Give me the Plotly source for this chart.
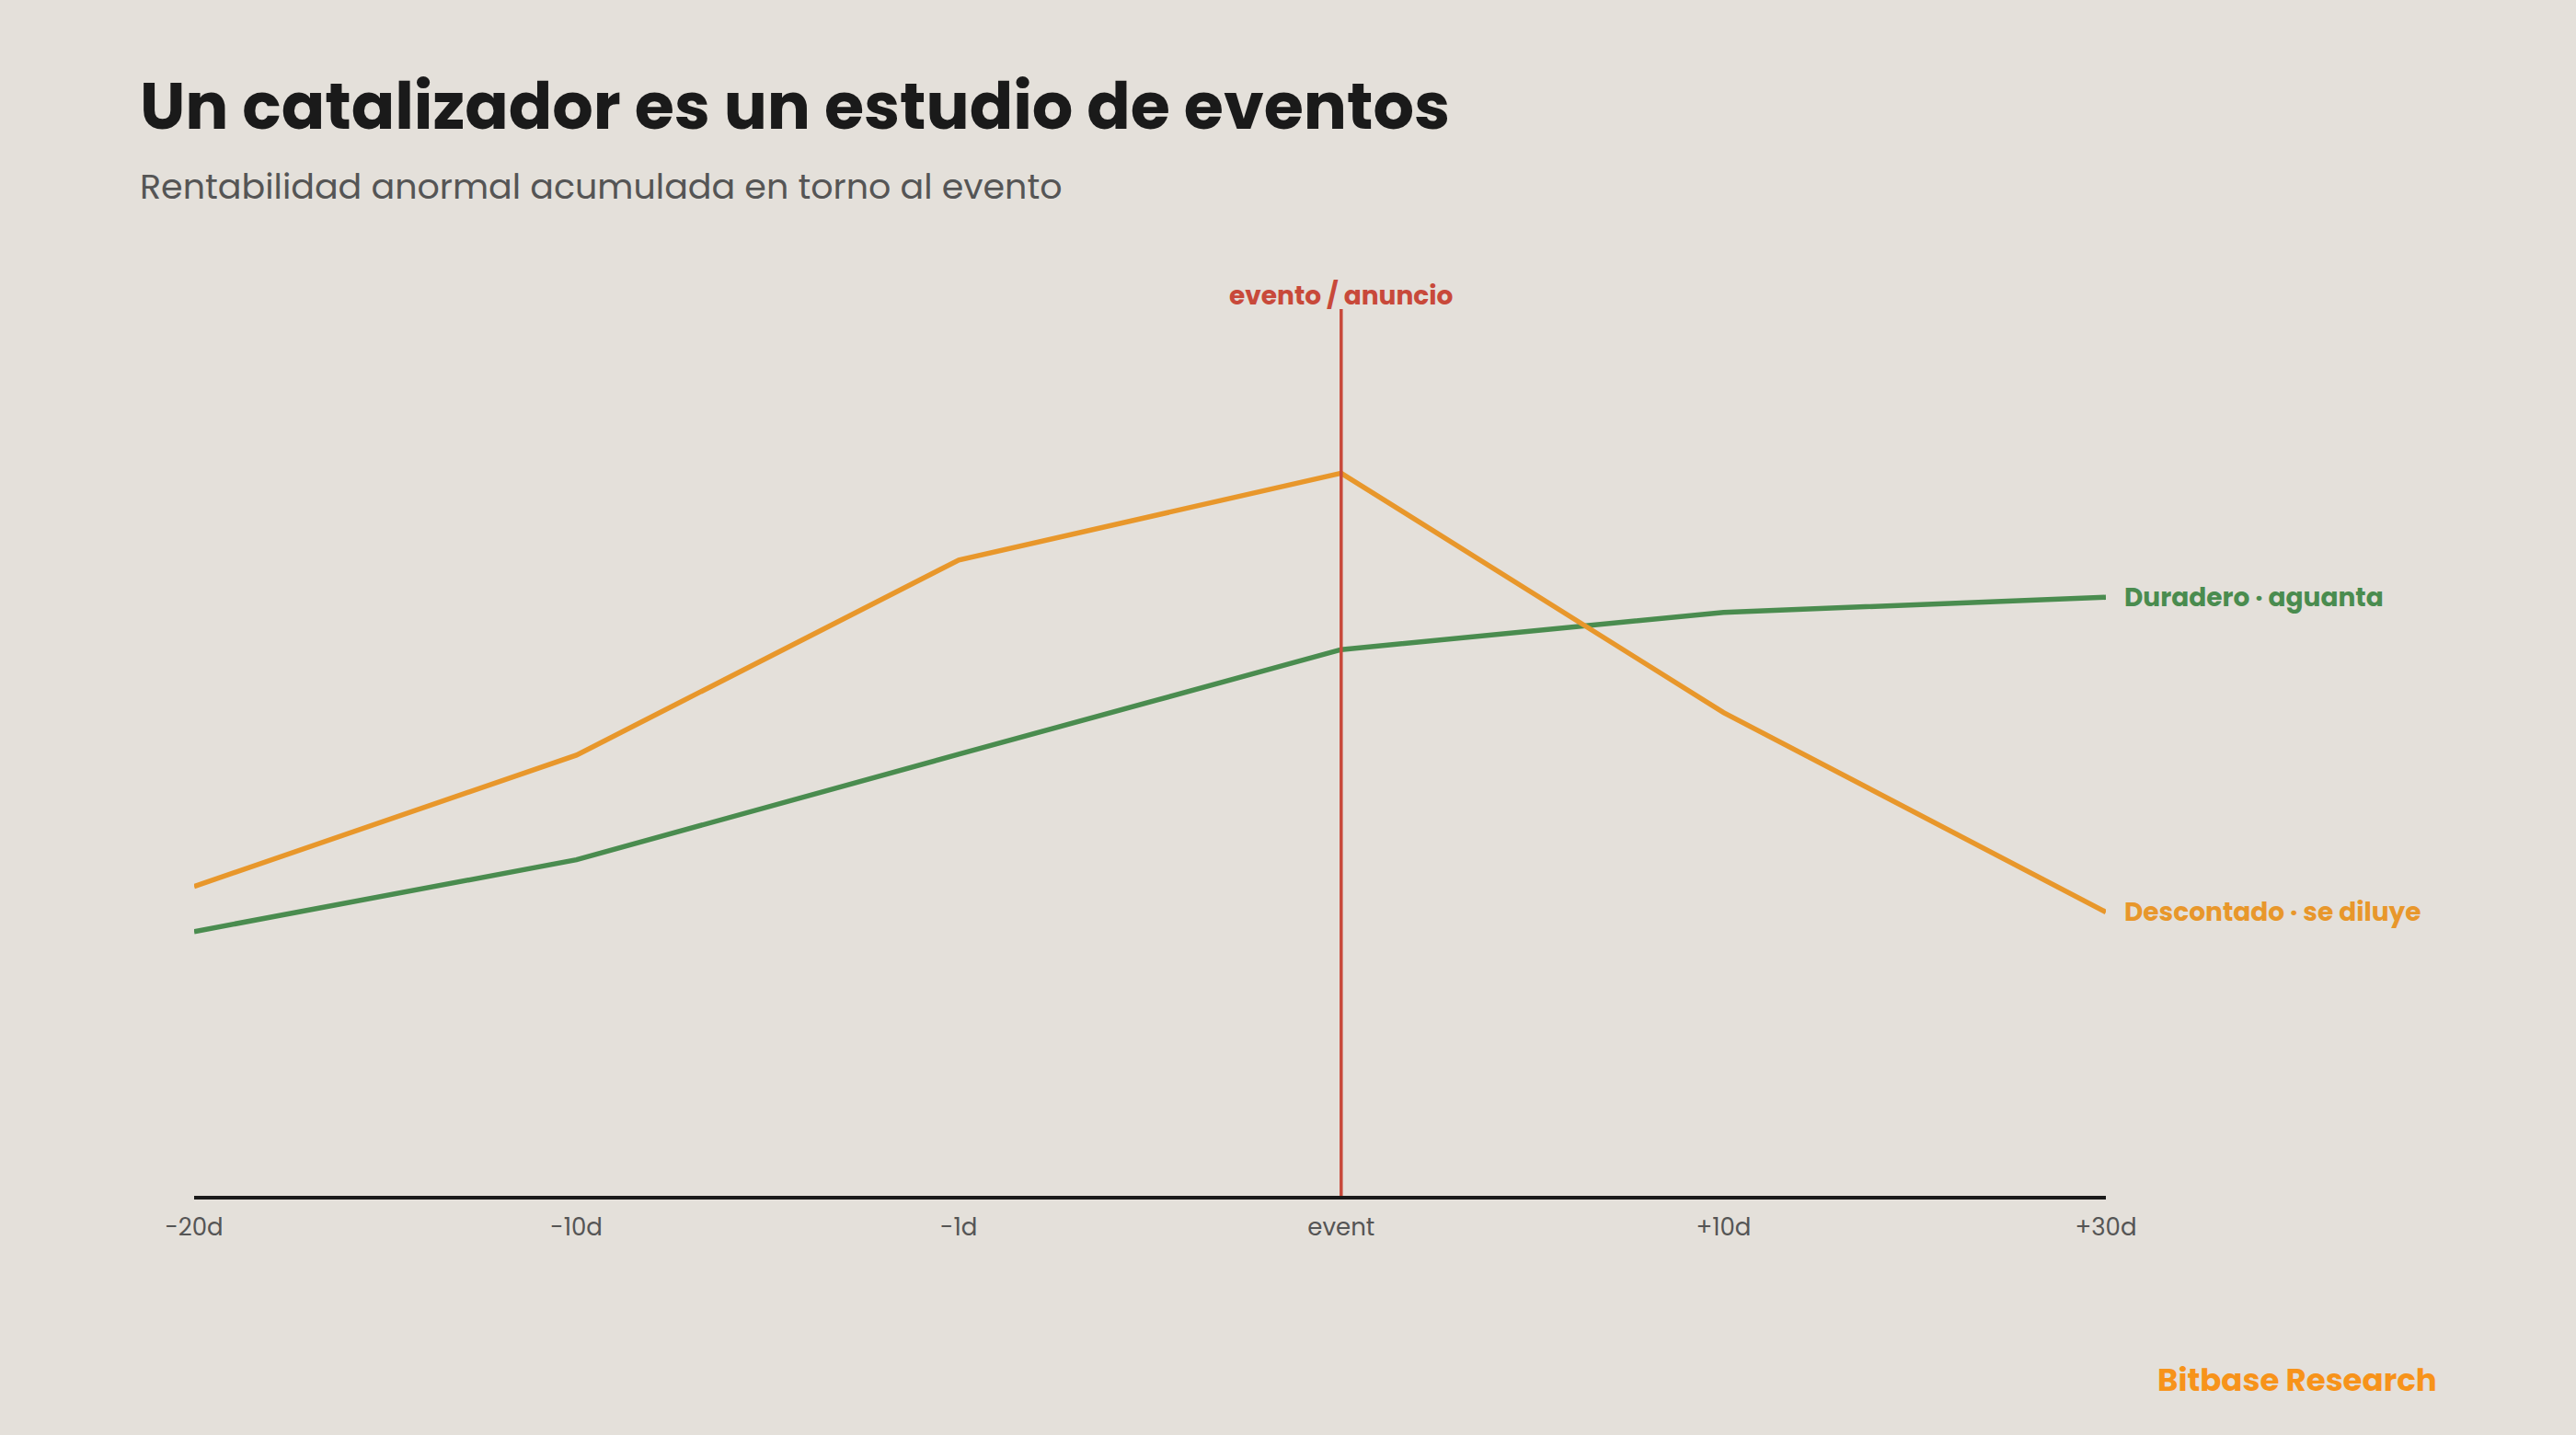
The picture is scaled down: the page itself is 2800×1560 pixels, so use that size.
import plotly.graph_objects as go

# event window (trading days around the announcement)
days = ["-20d", "-10d", "-1d", "event", "+10d", "+30d"]

# cumulative abnormal return (arbitrary units)
car_discounted = [3.49, 4.97, 7.17, 8.15, 5.45, 3.20]
car_durable = [2.98, 3.79, 4.98, 6.16, 6.58, 6.75]

label_discounted = "Descontado · se diluye"
label_durable = "Duradero · aguanta"
event_label = "evento / anuncio"

TITLE = "Un catalizador es un estudio de eventos"
SUBTITLE = "Rentabilidad anormal acumulada en torno al evento"
BRAND = "Bitbase Research"

BG = "#E4E0DA"
ORANGE = "#E8972B"
GREEN = "#4A8C4F"
RED = "#C8493A"
FONT = "Poppins, Inter, 'Noto Sans', sans-serif"

W, H = 2800, 1560
ML, MR, MT, MB = 211, 511, 336, 260


def px_x(px):
    # figure pixel -> paper x
    return (px - ML) / (W - ML - MR)


def px_y(py):
    # figure pixel -> paper y
    return (H - MB - py) / (H - MT - MB)


fig = go.Figure()

fig.add_trace(go.Scatter(
    x=days, y=car_durable, mode="lines", name=label_durable,
    line=dict(color=GREEN, width=5.5),
    hoverinfo="skip",
))
fig.add_trace(go.Scatter(
    x=days, y=car_discounted, mode="lines", name=label_discounted,
    line=dict(color=ORANGE, width=5.5),
    hoverinfo="skip",
))

# vertical marker on the event day
fig.add_shape(type="line", xref="x", yref="paper",
              x0="event", x1="event", y0=0, y1=1,
              line=dict(color=RED, width=3.5), layer="above")

ann = [
    dict(text=f"<b>{event_label}</b>", xref="x", yref="paper", x="event", y=1,
         xanchor="center", yanchor="bottom", yshift=-7,
         font=dict(size=28, color=RED)),
    dict(text=f"<b>{label_durable}</b>", xref="x", yref="y", x=days[-1], y=car_durable[-1],
         xanchor="left", yanchor="middle", xshift=18,
         font=dict(size=28, color=GREEN)),
    dict(text=f"<b>{label_discounted}</b>", xref="x", yref="y", x=days[-1], y=car_discounted[-1],
         xanchor="left", yanchor="middle", xshift=18,
         font=dict(size=28, color=ORANGE)),
    dict(text=f"<b>{TITLE}</b>", xref="paper", yref="paper", x=px_x(150), y=px_y(116),
         xanchor="left", yanchor="middle",
         font=dict(size=70, color="#1A1A1A")),
    dict(text=SUBTITLE, xref="paper", yref="paper", x=px_x(150), y=px_y(202),
         xanchor="left", yanchor="middle",
         font=dict(size=38, color="#555555")),
    dict(text=f"<b>{BRAND}</b>", xref="paper", yref="paper", x=px_x(2651), y=px_y(1500),
         xanchor="right", yanchor="middle",
         font=dict(size=34, color="#F7931A")),
]
for a in ann:
    a["showarrow"] = False
    fig.add_annotation(**a)

fig.update_layout(
    width=W, height=H,
    paper_bgcolor=BG, plot_bgcolor=BG,
    margin=dict(l=ML, r=MR, t=MT, b=MB),
    font=dict(family=FONT, color="#555555"),
    showlegend=False,
    xaxis=dict(
        type="category", categoryorder="array", categoryarray=days,
        range=[0, len(days) - 1],
        showgrid=False, zeroline=False,
        showline=True, linecolor="#1A1A1A", linewidth=4,
        ticks="", tickfont=dict(size=26, color="#555555"),
        ticklabelstandoff=8,
    ),
    yaxis=dict(
        range=[0, 10], visible=False,
        showgrid=False, zeroline=False,
    ),
)

# drop the page's default body margin so the figure sits flush at (0, 0)
fig.write_html("out.html", config={"displayModeBar": False},
               post_script="document.body.style.margin = '0';")
